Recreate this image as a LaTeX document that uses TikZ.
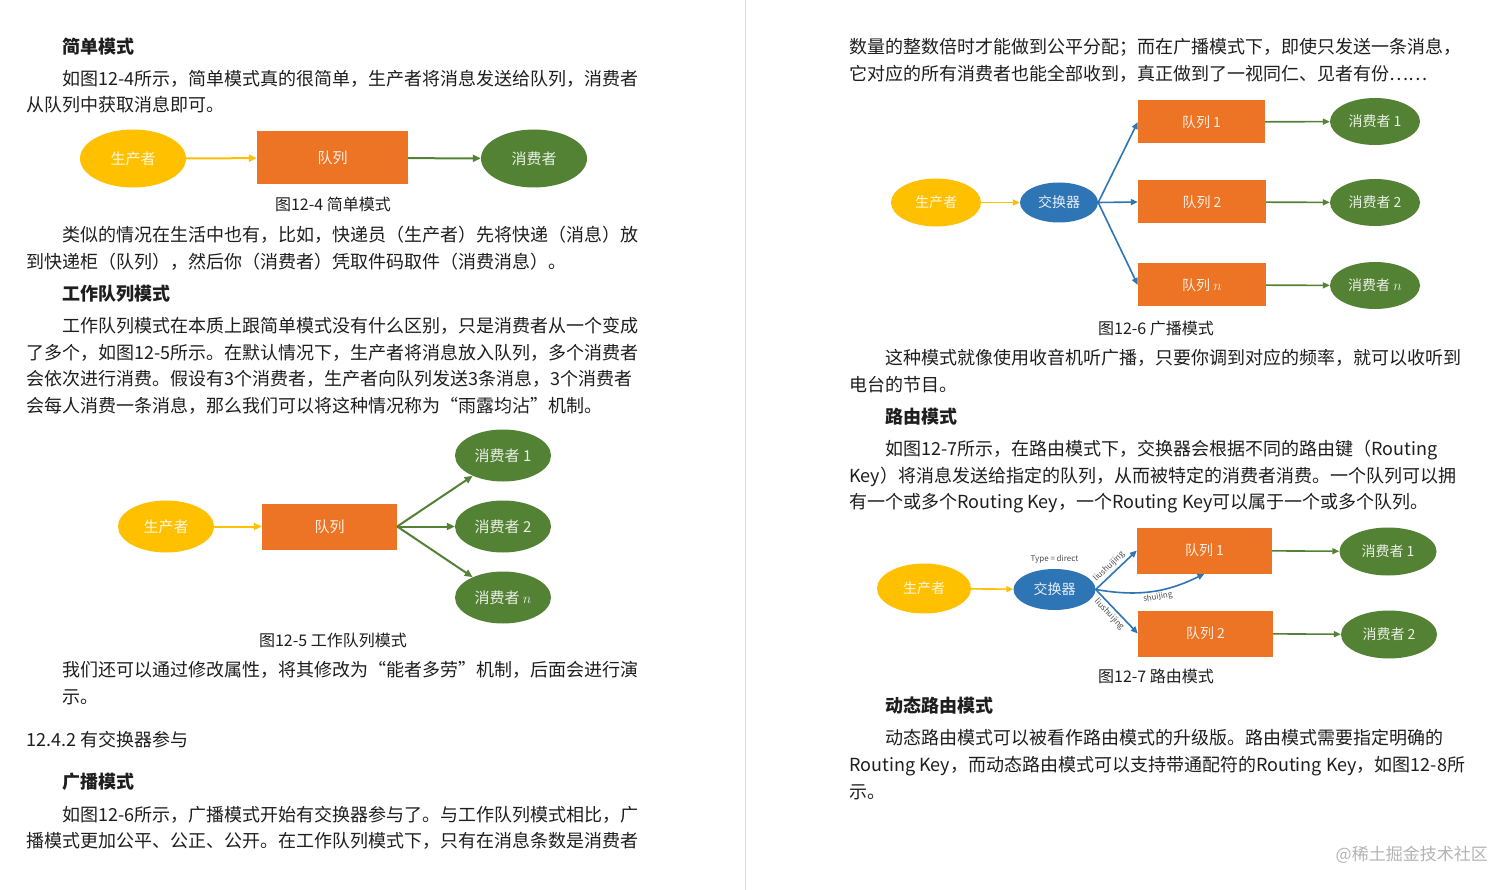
\documentclass[tikz,border=0pt]{standalone}
\usepackage{fontspec}
\setmainfont{Noto Sans CJK SC}
\usetikzlibrary{shapes.geometric,arrows.meta,positioning}

\definecolor{prodgold}{HTML}{FFC000}
\definecolor{queueorange}{HTML}{ED7424}
\definecolor{consgreen}{HTML}{548235}
\definecolor{exchblue}{HTML}{2E75B6}
\definecolor{inkgray}{HTML}{1E1E1E}
\definecolor{markgray}{HTML}{B4B4B4}

\tikzset{
  body/.style={anchor=base west, inner sep=0pt, text=inkgray, font=\fontsize{18}{20}\selectfont},
  head/.style={body, font=\fontsize{18}{20}\selectfont\bfseries},
  figcap/.style={anchor=base, inner sep=0pt, text=inkgray, font=\fontsize{16}{18}\selectfont},
  shapetext/.style={inner sep=0pt, text=white, text opacity=0.88, font=\fontsize{15}{17}\selectfont},
  smallfont/.style={font=\fontsize{14}{16}\selectfont},
  dims/.style 2 args={minimum width=#1, minimum height=#2},
  producer/.style={shapetext, ellipse, fill=prodgold},
  queuebox/.style={shapetext, rectangle, fill=queueorange},
  consumer/.style={shapetext, ellipse, fill=consgreen},
  exchanger/.style={shapetext, ellipse, fill=exchblue},
  feed/.style={-{Triangle[length=8pt,width=7pt]}, line width=2pt},
  thinfeed/.style={-{Triangle[length=7pt,width=6pt]}, line width=1.6pt},
  keytag/.style={inner sep=0.5pt, text=black!70, font=\fontsize{8}{9}\selectfont},
}

\begin{document}
\begin{tikzpicture}[x=1pt,y=-1pt]
  \fill[white] (0,0) rectangle (1512,889);
  \draw[black!15, line width=1pt] (745,0) -- (745,889);

  % left column
  \node[head] (l1) at (62,53) {简单模式};
  \node[body] (l2) at (62,85) {如图12-4所示，简单模式真的很简单，生产者将消息发送给队列，消费者};
  \node[body] (l3) at (26,111) {从队列中获取消息即可。};

  \node[producer, dims={106pt}{58pt}] (p1) at (133,158) {生产者};
  \node[queuebox, dims={151pt}{53pt}] (q1) at (332.5,157.5) {队列};
  \node[consumer, dims={106pt}{58pt}] (c1) at (534,158) {消费者};
  \draw[feed, prodgold] (p1) -- (q1);
  \draw[feed, consgreen] (q1) -- (c1);
  \node[figcap] (cap1) at (333,210) {图12-4 简单模式};

  \node[body] (l4) at (62,241) {类似的情况在生活中也有，比如，快递员（生产者）先将快递（消息）放};
  \node[body] (l5) at (26,268) {到快递柜（队列），然后你（消费者）凭取件码取件（消费消息）。};
  \node[head] (l6) at (62,300) {工作队列模式};
  \node[body] (l7) at (62,332) {工作队列模式在本质上跟简单模式没有什么区别，只是消费者从一个变成};
  \node[body] (l8) at (26,359) {了多个，如图12-5所示。在默认情况下，生产者将消息放入队列，多个消费者};
  \node[body] (l9) at (26,385) {会依次进行消费。假设有3个消费者，生产者向队列发送3条消息，3个消费者};
  \node[body] (l10) at (26,412) {会每人消费一条消息，那么我们可以将这种情况称为“雨露均沾”机制。};

  \node[producer, dims={96pt}{52pt}] (p2) at (166,526) {生产者};
  \node[queuebox, dims={135pt}{46pt}] (q2) at (329.5,526) {队列};
  \node[consumer, dims={96pt}{52pt}] (c21) at (503,455) {消费者 1};
  \node[consumer, dims={96pt}{52pt}] (c22) at (503,526) {消费者 2};
  \node[consumer, dims={96pt}{52pt}] (c2n) at (503,597) {消费者 $n$};
  \draw[feed, prodgold] (p2) -- (q2);
  \draw[feed, consgreen] (q2.east) -- (c21);
  \draw[feed, consgreen] (q2.east) -- (c22);
  \draw[feed, consgreen] (q2.east) -- (c2n);
  \node[figcap] (cap2) at (333,646) {图12-5 工作队列模式};

  \node[body] (l11) at (62,676) {我们还可以通过修改属性，将其修改为“能者多劳”机制，后面会进行演};
  \node[body] (l12) at (62,703) {示。};
  \node[body] (l13) at (26,746) {12.4.2 有交换器参与};
  \node[head] (l14) at (62,788) {广播模式};
  \node[body] (l15) at (62,821) {如图12-6所示，广播模式开始有交换器参与了。与工作队列模式相比，广};
  \node[body] (l16) at (26,847) {播模式更加公平、公正、公开。在工作队列模式下，只有在消息条数是消费者};

  % right column
  \node[body] (r1) at (849,53) {数量的整数倍时才能做到公平分配；而在广播模式下，即使只发送一条消息，};
  \node[body] (r2) at (849,80) {它对应的所有消费者也能全部收到，真正做到了一视同仁、见者有份……};

  \node[producer, smallfont, dims={90pt}{48pt}] (p3) at (936,202) {生产者};
  \node[exchanger, smallfont, dims={78pt}{40pt}] (x3) at (1059,202) {交换器};
  \node[queuebox, smallfont, dims={127pt}{43pt}] (q31) at (1201.5,121.5) {队列 1};
  \node[queuebox, smallfont, dims={128pt}{43pt}] (q32) at (1202,201.5) {队列 2};
  \node[queuebox, smallfont, dims={128pt}{43pt}] (q3n) at (1202,284.5) {队列 $n$};
  \node[consumer, smallfont, dims={90pt}{47pt}] (c31) at (1375,121) {消费者 1};
  \node[consumer, smallfont, dims={90pt}{47pt}] (c32) at (1375,202) {消费者 2};
  \node[consumer, smallfont, dims={90pt}{47pt}] (c3n) at (1375,285) {消费者 $n$};
  \draw[thinfeed, prodgold] (p3) -- (x3);
  \draw[thinfeed, exchblue] (x3.east) -- (q31.west);
  \draw[thinfeed, exchblue] (x3.east) -- (q32.west);
  \draw[thinfeed, exchblue] (x3.east) -- (q3n.west);
  \draw[thinfeed, consgreen] (q31) -- (c31);
  \draw[thinfeed, consgreen] (q32) -- (c32);
  \draw[thinfeed, consgreen] (q3n) -- (c3n);
  \node[figcap] (cap3) at (1156,334) {图12-6 广播模式};

  \node[body] (r3) at (885,364) {这种模式就像使用收音机听广播，只要你调到对应的频率，就可以收听到};
  \node[body] (r4) at (849,391) {电台的节目。};
  \node[head] (r5) at (885,423) {路由模式};
  \node[body] (r6) at (885,455) {如图12-7所示，在路由模式下，交换器会根据不同的路由键（Routing};
  \node[body] (r7) at (849,482) {Key）将消息发送给指定的队列，从而被特定的消费者消费。一个队列可以拥};
  \node[body] (r8) at (849,508) {有一个或多个Routing Key，一个Routing Key可以属于一个或多个队列。};

  \node[producer, smallfont, dims={94pt}{50pt}] (p4) at (924,588) {生产者};
  \node[exchanger, smallfont, dims={82pt}{41pt}] (x4) at (1054.5,589) {交换器};
  \node[queuebox, smallfont, dims={135pt}{46pt}] (q41) at (1204.5,550) {队列 1};
  \node[queuebox, smallfont, dims={135pt}{46pt}] (q42) at (1205.5,633) {队列 2};
  \node[consumer, smallfont, dims={97pt}{48pt}] (c41) at (1388,551) {消费者 1};
  \node[consumer, smallfont, dims={96pt}{48pt}] (c42) at (1389,634) {消费者 2};
  \node[keytag, above=5pt of x4] (xtype) {Type = direct};
  \draw[thinfeed, prodgold] (p4) -- (x4);
  \draw[thinfeed, exchblue] (x4.east) -- (q41.west)
    node[keytag, pos=0.45, above=2pt, sloped] (tagup) {liushuijing};
  \draw[thinfeed, exchblue] (x4.east) to[bend right=18]
    node[keytag, pos=0.55, below=1pt, sloped] (tagmid) {shuijing} (q41.south);
  \draw[thinfeed, exchblue] (x4.east) -- (q42.west)
    node[keytag, pos=0.45, below=2pt, sloped] (tagdown) {liushuijing};
  \draw[thinfeed, consgreen] (q41) -- (c41);
  \draw[thinfeed, consgreen] (q42) -- (c42);
  \node[figcap] (cap4) at (1156,682) {图12-7 路由模式};

  \node[head] (r9) at (885,712) {动态路由模式};
  \node[body] (r10) at (885,744) {动态路由模式可以被看作路由模式的升级版。路由模式需要指定明确的};
  \node[body] (r11) at (849,771) {Routing Key，而动态路由模式可以支持带通配符的Routing Key，如图12-8所};
  \node[body] (r12) at (849,798) {示。};
  \node[body, anchor=base east, text=markgray, font=\fontsize{17}{19}\selectfont] (mark) at (1488,860) {@稀土掘金技术社区};
\end{tikzpicture}
\end{document}
